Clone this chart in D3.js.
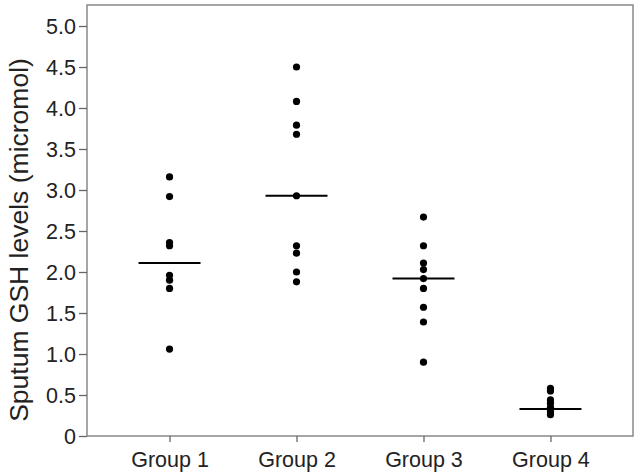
<!DOCTYPE html>
<html><head><meta charset="utf-8">
<script src="https://cdn.jsdelivr.net/npm/d3@7"></script>
<style>body{margin:0;background:#fff}svg{display:block}text{font-family:"Liberation Sans",Arial,sans-serif;fill:#222}</style>
</head><body>
<script>
const groups = ["Group 1","Group 2","Group 3","Group 4"];
const group1 = [3.16, 2.92, 2.36, 2.32, 1.96, 1.90, 1.80, 1.06];
const group2 = [4.50, 4.08, 3.79, 3.68, 2.93, 2.32, 2.23, 2.00, 1.88];
const group3 = [2.67, 2.32, 2.11, 2.03, 1.92, 1.80, 1.57, 1.39, 0.90];
const group4 = [0.58, 0.55, 0.44, 0.40, 0.35, 0.30, 0.26];
const medians = [2.11, 2.93, 1.92, 0.33];
const yTicks = [0,0.5,1,1.5,2,2.5,3,3.5,4,4.5,5];
const yTitle = "Sputum GSH levels (micromol)";

const W=641,H=474;
const m={left:87,right:8,top:5,bottom:38};
const svg=d3.select("body").append("svg").attr("width",W).attr("height",H);
const x=d3.scalePoint().domain(groups).range([m.left,W-m.right]).padding(0.65);
const y=d3.scaleLinear().domain([0,5]).range([H-m.bottom,H-m.bottom-410]);

// frame
svg.append("rect").attr("x",m.left).attr("y",m.top).attr("width",W-m.right-m.left).attr("height",H-m.bottom-m.top)
  .attr("fill","none").attr("stroke","#888").attr("stroke-width",1.5);

const ya=svg.append("g").attr("transform",`translate(${m.left},0)`)
  .call(d3.axisLeft(y).tickValues(yTicks).tickSize(8).tickPadding(3).tickFormat(d=>d===0?"0":d3.format(".1f")(d)));
ya.select(".domain").remove();
ya.selectAll("line").attr("stroke","#666").attr("stroke-width",1.3);
ya.selectAll("text").style("font-size","21.5px").attr("dy","0.36em").attr("fill","#222");

const xa=svg.append("g").attr("transform",`translate(0,${H-m.bottom})`)
  .call(d3.axisBottom(x).tickSize(6).tickPadding(10));
xa.select(".domain").remove();
xa.selectAll("line").attr("stroke","#666").attr("stroke-width",1.3);
xa.selectAll("text").style("font-size","21.5px").attr("fill","#222");

svg.append("text").attr("transform",`translate(27.5,240) rotate(-90)`)
  .attr("text-anchor","middle").style("font-size","26.5px").text(yTitle);

const series=[group1,group2,group3,group4];
series.forEach((vals,i)=>{
  svg.append("g").selectAll("circle").data(vals).join("circle")
    .attr("cx",x(groups[i])).attr("cy",d=>y(d)).attr("r",3.6).attr("fill","#000");
});
svg.append("g").selectAll("line").data(medians).join("line")
  .attr("x1",(d,i)=>x(groups[i])-31).attr("x2",(d,i)=>x(groups[i])+31)
  .attr("y1",d=>y(d)).attr("y2",d=>y(d)).attr("stroke","#000").attr("stroke-width",2);
</script>
</body></html>
